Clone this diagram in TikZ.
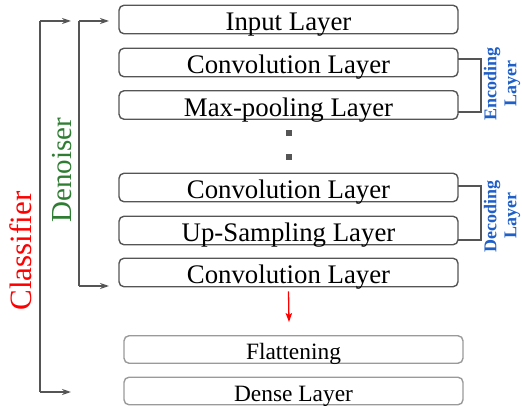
\documentclass[tikz,border=0pt]{standalone}
\usepackage{fontspec}
\setmainfont{Liberation Serif}
\usetikzlibrary{arrows.meta}
\definecolor{boxgray}{HTML}{555555}
\definecolor{lightbox}{HTML}{9A9A9A}
\definecolor{dgreen}{HTML}{2E7D32}
\definecolor{lblue}{HTML}{1F5FC8}
\tikzset{
  layer/.style={draw=boxgray, line width=1.4pt, rounded corners=5pt, minimum width=339pt, minimum height=28.5pt, inner sep=0pt, text height=22.5pt, text depth=0pt, font=\fontsize{26.8}{26.8}\selectfont},
  layerb/.style={draw=lightbox, line width=1.4pt, rounded corners=5pt, minimum width=339pt, minimum height=27.5pt, inner sep=0pt, text height=20pt, text depth=0pt, font=\fontsize{23.4}{23.4}\selectfont},
  brk/.style={draw=boxgray, line width=1.4pt},
  arr/.style={brk, -{Stealth[length=9pt,width=6pt,inset=3pt]}},
  dotsq/.style={fill=boxgray, minimum size=5.5pt, inner sep=0pt},
  side/.style={rotate=90, text=lblue, font=\fontsize{18}{20}\selectfont\bfseries, align=center}
}
\begin{document}
\begin{tikzpicture}[x=1pt,y=-1pt]
\useasboundingbox (0,0) rectangle (522,406);
% layers
\node[layer] (in) at (288.5,19.5) {Input Layer};
\node[layer] (c1) at (288.5,62.5) {Convolution Layer};
\node[layer] (mp) at (288.5,105) {Max-pooling Layer};
\node[dotsq] (d1) at (289,133) {};
\node[dotsq] (d2) at (289,157) {};
\node[layer] (c2) at (288.5,187.5) {Convolution Layer};
\node[layer] (up) at (288.5,230.5) {Up-Sampling Layer};
\node[layer] (c3) at (288.5,272.5) {Convolution Layer};
\node[layerb] (fl) at (293.5,349.5) {Flattening};
\node[layerb] (de) at (293.5,391) {Dense Layer};
% red arrow
\coordinate (ra) at (289,322);
\draw[red, line width=1.3pt, -{Stealth[length=9pt,width=6.5pt,inset=2pt]}] (c3.south) ++(0,4) -- (ra);
% classifier bracket
\coordinate (cl1) at (40,21);
\coordinate (cl2) at (40,392);
\coordinate (ct1) at (71,21);
\coordinate (ct2) at (71,392);
\draw[brk] (cl1) -- (cl2);
\draw[arr] (cl1) -- (ct1);
\draw[arr] (cl2) -- (ct2);
\node[rotate=90, text=red, font=\fontsize{31}{31}\selectfont] (clt) at (21,251) {Classifier};
% denoiser bracket
\coordinate (dn1) at (79,21);
\coordinate (dn2) at (79,286);
\coordinate (dt1) at (109,21);
\coordinate (dt2) at (109,286);
\draw[brk] (dn1) -- (dn2);
\draw[arr] (dn1) -- (dt1);
\draw[arr] (dn2) -- (dt2);
\node[rotate=90, text=dgreen, font=\fontsize{29}{29}\selectfont] (dnt) at (62,170) {Denoiser};
% encoding bracket
\coordinate (e1) at (458,59);
\coordinate (e2) at (458,112);
\draw[brk] (e1) -- (481,59) -- (481,112) -- (e2);
\node[side] (enc) at (502,84) {Encoding\\Layer};
% decoding bracket
\coordinate (f1) at (458,186);
\coordinate (f2) at (458,240);
\draw[brk] (f1) -- (481,186) -- (481,240) -- (f2);
\node[side] (dec) at (502,216) {Decoding\\Layer};
\end{tikzpicture}
\end{document}
